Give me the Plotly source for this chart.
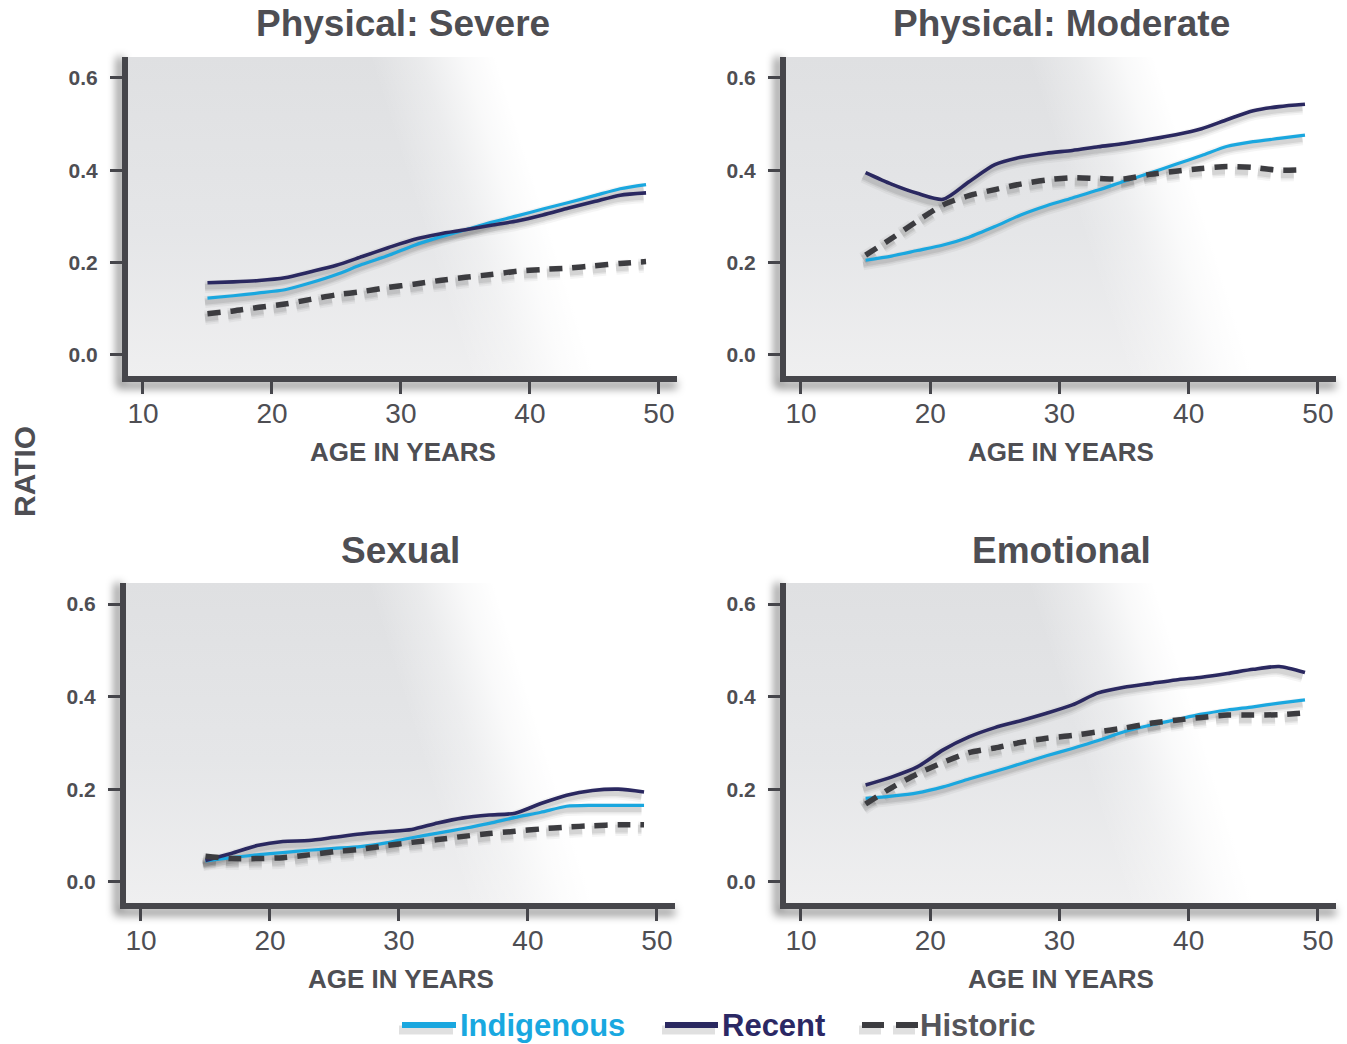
import base64
import plotly.graph_objects as go

# ---------------------------------------------------------------- data
AGES = [15, 17, 19, 21, 23, 25, 27, 29, 31, 33, 35, 37, 39, 41, 43, 45, 47, 49]

PANEL_TITLES = ["Physical: Severe", "Physical: Moderate", "Sexual", "Emotional"]
SERIES_NAMES = ["Indigenous", "Recent", "Historic"]

SEVERE_INDIGENOUS = [0.123, 0.128, 0.134, 0.141, 0.156, 0.174, 0.196, 0.215, 0.237,
                     0.255, 0.271, 0.287, 0.301, 0.316, 0.330, 0.345, 0.360, 0.369]
SEVERE_RECENT = [0.156, 0.158, 0.161, 0.167, 0.180, 0.194, 0.213, 0.232, 0.250,
                 0.262, 0.271, 0.281, 0.290, 0.303, 0.318, 0.332, 0.346, 0.351]
SEVERE_HISTORIC = [0.089, 0.095, 0.103, 0.110, 0.120, 0.130, 0.137, 0.146, 0.153,
                   0.161, 0.168, 0.174, 0.181, 0.185, 0.188, 0.193, 0.198, 0.202]

MODERATE_INDIGENOUS = [0.205, 0.214, 0.226, 0.238, 0.255, 0.278, 0.303, 0.323, 0.340,
                       0.357, 0.376, 0.394, 0.413, 0.432, 0.452, 0.462, 0.469, 0.476]
MODERATE_RECENT = [0.395, 0.370, 0.350, 0.337, 0.375, 0.412, 0.428, 0.437, 0.443,
                   0.451, 0.458, 0.467, 0.477, 0.490, 0.510, 0.529, 0.538, 0.543]
MODERATE_HISTORIC = [0.216, 0.252, 0.290, 0.325, 0.345, 0.358, 0.370, 0.379, 0.384,
                     0.382, 0.381, 0.391, 0.398, 0.404, 0.408, 0.406, 0.400, 0.401]

SEXUAL_INDIGENOUS = [0.045, 0.052, 0.058, 0.063, 0.068, 0.072, 0.076, 0.084, 0.095,
                     0.105, 0.115, 0.126, 0.139, 0.150, 0.163, 0.165, 0.165, 0.165]
SEXUAL_RECENT = [0.046, 0.061, 0.078, 0.087, 0.089, 0.096, 0.103, 0.108, 0.113,
                 0.127, 0.138, 0.144, 0.148, 0.169, 0.187, 0.197, 0.200, 0.194]
SEXUAL_HISTORIC = [0.055, 0.050, 0.050, 0.052, 0.058, 0.065, 0.070, 0.078, 0.085,
                   0.091, 0.098, 0.104, 0.109, 0.114, 0.118, 0.121, 0.123, 0.123]

EMOTIONAL_INDIGENOUS = [0.180, 0.185, 0.192, 0.205, 0.222, 0.238, 0.255, 0.272, 0.288,
                        0.305, 0.324, 0.338, 0.350, 0.362, 0.371, 0.378, 0.386, 0.393]
EMOTIONAL_RECENT = [0.209, 0.226, 0.248, 0.285, 0.313, 0.333, 0.348, 0.364, 0.382,
                    0.408, 0.420, 0.428, 0.436, 0.442, 0.450, 0.459, 0.465, 0.452]
EMOTIONAL_HISTORIC = [0.168, 0.203, 0.233, 0.258, 0.279, 0.289, 0.301, 0.310, 0.316,
                      0.324, 0.332, 0.342, 0.349, 0.355, 0.360, 0.360, 0.361, 0.365]

X_TICKS = [10, 20, 30, 40, 50]
Y_TICKS = [0.0, 0.2, 0.4, 0.6]

PANEL_SERIES = [
    [SEVERE_INDIGENOUS, SEVERE_RECENT, SEVERE_HISTORIC],
    [MODERATE_INDIGENOUS, MODERATE_RECENT, MODERATE_HISTORIC],
    [SEXUAL_INDIGENOUS, SEXUAL_RECENT, SEXUAL_HISTORIC],
    [EMOTIONAL_INDIGENOUS, EMOTIONAL_RECENT, EMOTIONAL_HISTORIC],
]

# ---------------------------------------------------------------- style
FIG_W, FIG_H = 1347, 1044
TEXT = "#4e4e53"
AXIS = "#46464b"
FONT = "Liberation Sans, Arial, sans-serif"
NARROW = "Liberation Sans Narrow, Arial Narrow, Liberation Sans, Arial, sans-serif"

SERIES_STYLE = {
    "Indigenous": dict(color="#1aa7df", width=3.2, dash="solid"),
    "Recent": dict(color="#2a2860", width=3.6, dash="solid"),
    "Historic": dict(color="#3c3c40", width=5.5, dash="13px,10px"),
}
LABEL_COLORS = {"Indigenous": "#19a8e0", "Recent": "#2b2864", "Historic": "#55555a"}

X_RANGE = [8.84, 51.4]
Y_RANGE = [-0.046, 0.6455]

# plot boxes in pixels: left, right, top, bottom
BOXES = [
    (128, 677, 57, 376),
    (786, 1336, 57, 376),
    (126, 675, 583, 903),
    (786, 1336, 583, 903),
]


def px_x(p):
    return p / FIG_W


def px_y(p):
    return 1 - p / FIG_H


def backdrop(w, h, ml=30, mr=10, mt=10, mb=30):
    """Grey panel fill fading to white along a tilted band, plus a soft
    shadow along the two axes."""
    W, H = w + ml + mr, h + mt + mb
    # fade starts at ~44% of the width on top and drifts right
    # by ~100 px towards the bottom
    bx, by = ml + 0.44 * w, mt
    tilt = 100
    nx, ny = h, -tilt
    nl = (nx ** 2 + ny ** 2) ** 0.5
    nx, ny = nx / nl, ny / nl
    fade = 120
    x1, y1 = bx, by
    x2, y2 = bx + fade * nx, by + fade * ny

    svg = f'''<svg xmlns="http://www.w3.org/2000/svg" width="{W}" height="{H}" viewBox="0 0 {W} {H}">
<defs>
<linearGradient id="v" x1="0" y1="0" x2="0" y2="1">
<stop offset="0" stop-color="#dfe0e2"/>
<stop offset="0.55" stop-color="#e5e6e8"/>
<stop offset="1" stop-color="#efeff0"/>
</linearGradient>
<linearGradient id="g" gradientUnits="userSpaceOnUse" x1="{x1:.1f}" y1="{y1:.1f}" x2="{x2:.1f}" y2="{y2:.1f}">
<stop offset="0" stop-color="#ffffff" stop-opacity="0"/>
<stop offset="0.4" stop-color="#ffffff" stop-opacity="0.35"/>
<stop offset="0.75" stop-color="#ffffff" stop-opacity="0.8"/>
<stop offset="1" stop-color="#ffffff" stop-opacity="1"/>
</linearGradient>
<filter id="b" x="-10%" y="-10%" width="120%" height="120%"><feGaussianBlur stdDeviation="4.5"/></filter>
</defs>
<path d="M{ml - 8},{mt} L{ml - 8},{mt + h + 9} L{ml + w},{mt + h + 9}" stroke="#000" stroke-opacity="0.45" stroke-width="7" fill="none" filter="url(#b)"/>
<rect x="{ml}" y="{mt}" width="{w}" height="{h}" fill="url(#v)"/>
<rect x="{ml}" y="{mt}" width="{w}" height="{h}" fill="url(#g)"/>
</svg>'''
    src = "data:image/svg+xml;base64," + base64.b64encode(svg.encode()).decode()
    return src, W, H, ml, mt


fig = go.Figure()
layout = dict(
    width=FIG_W, height=FIG_H,
    margin=dict(l=0, r=0, t=0, b=0),
    paper_bgcolor="white", plot_bgcolor="rgba(0,0,0,0)",
    showlegend=False,
    font=dict(family=FONT, color=TEXT),
)
images, annotations, shapes = [], [], []

for i, (box, series) in enumerate(zip(BOXES, PANEL_SERIES)):
    left, right, top, bottom = box
    w, h = right - left, bottom - top
    xdom = [px_x(left), px_x(right)]
    ydom = [px_y(bottom), px_y(top)]
    ppx = w / (X_RANGE[1] - X_RANGE[0])
    ppy = h / (Y_RANGE[1] - Y_RANGE[0])
    dx, dy = 2.5 / ppx, 4.0 / ppy

    n, m = i + 1, i + 5
    sx, sy = ("x" if n == 1 else f"x{n}"), ("y" if n == 1 else f"y{n}")
    vx, vy = f"x{m}", f"y{m}"

    # shadow layer: same data on axes nudged a few pixels
    layout[f"xaxis{'' if n == 1 else n}"] = dict(
        domain=xdom, range=[X_RANGE[0] + dx, X_RANGE[1] + dx],
        visible=False, anchor=sy, fixedrange=True)
    layout[f"yaxis{'' if n == 1 else n}"] = dict(
        domain=ydom, range=[Y_RANGE[0] + dy, Y_RANGE[1] + dy],
        visible=False, anchor=sx, fixedrange=True)

    # visible layer
    layout[f"xaxis{m}"] = dict(
        overlaying=sx, anchor=vy, range=X_RANGE,
        showline=True, linewidth=6, linecolor=AXIS,
        ticks="outside", ticklen=12, tickwidth=3, tickcolor=AXIS,
        tickvals=X_TICKS, ticktext=[str(t) for t in X_TICKS],
        tickfont=dict(family=NARROW, size=28, color=TEXT),
        ticklabelstandoff=-5,
        showgrid=False, zeroline=False, fixedrange=True)
    layout[f"yaxis{m}"] = dict(
        overlaying=sy, anchor=vx, range=Y_RANGE,
        showline=True, linewidth=6, linecolor=AXIS,
        ticks="outside", ticklen=12, tickwidth=3, tickcolor=AXIS,
        tickvals=Y_TICKS, tickformat=".1f",
        tickfont=dict(family=FONT, size=21, color=TEXT, weight="bold"),
        ticklabelstandoff=8,
        showgrid=False, zeroline=False, fixedrange=True)

    for name, values in zip(SERIES_NAMES, series):
        st = SERIES_STYLE[name]
        for sw, op in ((12, 0.04), (8, 0.06), (5, 0.08)):
            fig.add_trace(go.Scatter(
                x=AGES, y=values, mode="lines", xaxis=sx, yaxis=sy,
                line=dict(color=f"rgba(0,0,0,{op})", width=sw + (st["width"] - 3),
                          dash=st["dash"], shape="spline", smoothing=0.7),
                hoverinfo="skip"))
    for name, values in zip(SERIES_NAMES, series):
        st = SERIES_STYLE[name]
        fig.add_trace(go.Scatter(
            x=AGES, y=values, mode="lines", name=name, xaxis=vx, yaxis=vy,
            line=dict(color=st["color"], width=st["width"], dash=st["dash"],
                      shape="spline", smoothing=0.7)))

    src, W, H, ml, mt = backdrop(w, h)
    images.append(dict(
        source=src, xref="paper", yref="paper",
        x=px_x(left - ml), y=px_y(top - mt),
        sizex=W / FIG_W, sizey=H / FIG_H,
        xanchor="left", yanchor="top", sizing="stretch", layer="below"))

    cx = px_x((left + right) / 2)
    annotations.append(dict(
        text=f"<b>{PANEL_TITLES[i]}</b>", xref="paper", yref="paper",
        x=cx, y=px_y(top - 33), showarrow=False, xanchor="center", yanchor="middle",
        font=dict(family=FONT, size=37, color=TEXT)))
    annotations.append(dict(
        text="<b>AGE IN YEARS</b>", xref="paper", yref="paper",
        x=cx, y=px_y(bottom + 76), showarrow=False, xanchor="center", yanchor="middle",
        font=dict(family=FONT, size=26, color=TEXT)))

annotations.append(dict(
    text="<b>RATIO</b>", xref="paper", yref="paper", x=px_x(24), y=px_y(472),
    showarrow=False, textangle=-90, xanchor="center", yanchor="middle",
    font=dict(family=FONT, size=30, color=TEXT)))

# legend row
LEG_Y = px_y(1025)
LEG_SHADOW_Y = px_y(1030)
legend_items = [
    ("Indigenous", [(402, 456)], 458),
    ("Recent", [(665, 718)], 720),
    ("Historic", [(862, 884), (896, 918)], 918),
]
for name, segs, tx in legend_items:
    st = SERIES_STYLE[name]
    for a, b in segs:
        shapes.append(dict(type="line", xref="paper", yref="paper",
                           x0=px_x(a - 3), x1=px_x(b - 3), y0=LEG_SHADOW_Y, y1=LEG_SHADOW_Y,
                           line=dict(color="rgba(0,0,0,0.12)", width=9)))
        shapes.append(dict(type="line", xref="paper", yref="paper",
                           x0=px_x(a), x1=px_x(b), y0=LEG_Y, y1=LEG_Y,
                           line=dict(color=st["color"], width=6)))
    annotations.append(dict(
        text=f"<b>{name}</b>", xref="paper", yref="paper", x=px_x(tx), y=LEG_Y,
        showarrow=False, xanchor="left", yanchor="middle",
        font=dict(family=FONT, size=31, color=LABEL_COLORS[name])))

layout["images"] = images
layout["annotations"] = annotations
layout["shapes"] = shapes
fig.update_layout(**layout)

fig.write_html("out.html")
